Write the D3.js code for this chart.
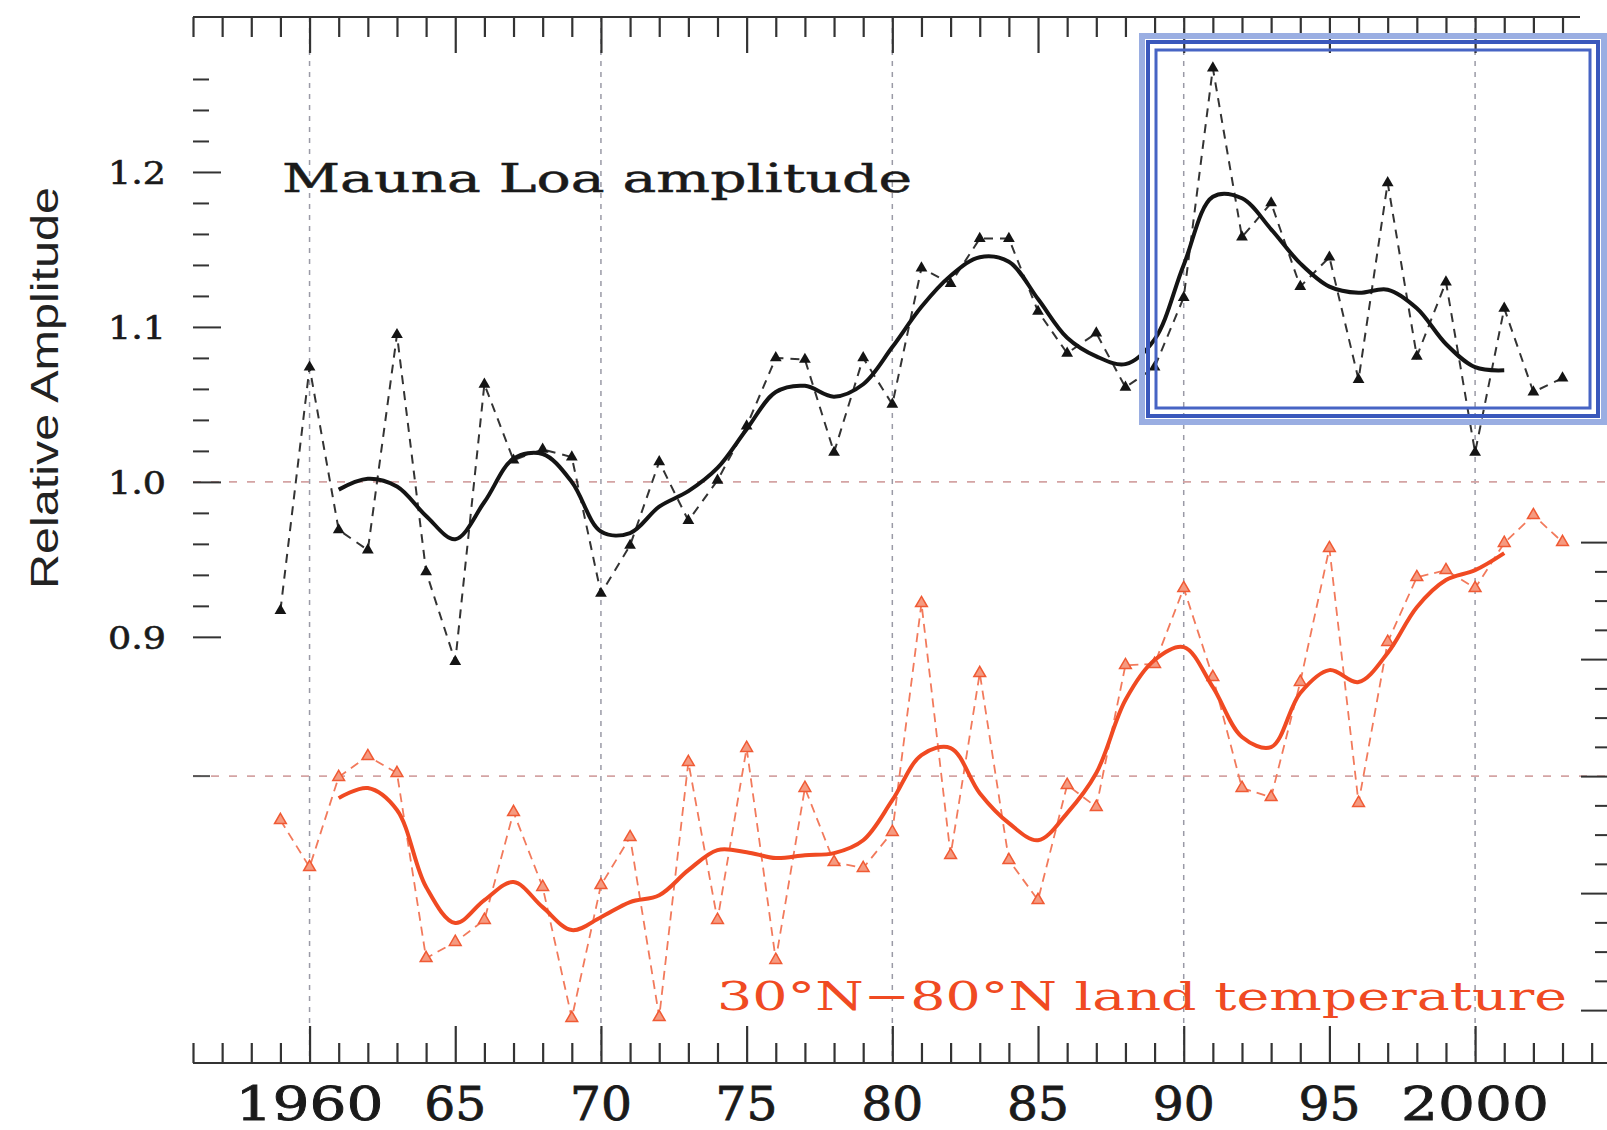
<!DOCTYPE html>
<html>
<head>
<meta charset="utf-8">
<script src="https://cdn.jsdelivr.net/npm/d3@7"></script>
<style>
  html, body { margin: 0; padding: 0; background: #fff; }
  svg { display: block; }
</style>
</head>
<body>
<div id="chart"></div>
<script>
const width = 1607;
const height = 1130;

// years of the annual values
const years = [1959, 1960, 1961, 1962, 1963, 1964, 1965, 1966, 1967, 1968,
  1969, 1970, 1971, 1972, 1973, 1974, 1975, 1976, 1977, 1978,
  1979, 1980, 1981, 1982, 1983, 1984, 1985, 1986, 1987, 1988,
  1989, 1990, 1991, 1992, 1993, 1994, 1995, 1996, 1997, 1998,
  1999, 2000, 2001, 2002, 2003];

// Mauna Loa seasonal amplitude (relative), annual
const maunaLoa = [0.917, 1.074, 0.969, 0.956, 1.095, 0.942, 0.884, 1.063, 1.014, 1.021,
  1.016, 0.928, 0.959, 1.013, 0.975, 1.001, 1.036, 1.080, 1.079, 1.019,
  1.080, 1.050, 1.138, 1.128, 1.157, 1.157, 1.110, 1.083, 1.096, 1.061,
  1.074, 1.119, 1.267, 1.158, 1.180, 1.126, 1.145, 1.066, 1.193, 1.081,
  1.129, 1.019, 1.112, 1.058, 1.067];

// 30N-80N land temperature anomaly (deg C), annual
const landTemp = [-0.188, -0.389, -0.004, 0.085, 0.013, -0.778, -0.709, -0.615, -0.154, -0.474,
  -1.034, -0.466, -0.261, -1.030, 0.060, -0.615, 0.120, -0.786, -0.051, -0.368,
  -0.393, -0.239, 0.739, -0.338, 0.440, -0.359, -0.530, -0.038, -0.132, 0.474,
  0.479, 0.803, 0.423, -0.051, -0.090, 0.402, 0.974, -0.115, 0.573, 0.850,
  0.880, 0.803, 0.996, 1.115, 1.000];

// smoothed curves
const smoothYears = [1961, 1962, 1963, 1964, 1965, 1966, 1967, 1968, 1969, 1970,
  1971, 1972, 1973, 1974, 1975, 1976, 1977, 1978, 1979, 1980,
  1981, 1982, 1983, 1984, 1985, 1986, 1987, 1988, 1989, 1990,
  1991, 1992, 1993, 1994, 1995, 1996, 1997, 1998, 1999, 2000, 2001];

const maunaLoaSmooth = [0.995, 1.002, 0.997, 0.978, 0.963, 0.987, 1.015, 1.018, 1.000, 0.968,
  0.967, 0.984, 0.994, 1.009, 1.034, 1.058, 1.062, 1.055, 1.063, 1.087,
  1.113, 1.133, 1.145, 1.142, 1.118, 1.093, 1.081, 1.076, 1.092, 1.140,
  1.184, 1.183, 1.163, 1.141, 1.126, 1.122, 1.124, 1.112, 1.089, 1.074, 1.072];

const landTempSmooth = [-0.094, -0.051, -0.145, -0.474, -0.628, -0.530, -0.453, -0.560, -0.658, -0.603,
  -0.538, -0.509, -0.402, -0.316, -0.325, -0.350, -0.338, -0.329, -0.274, -0.103,
  0.090, 0.120, -0.073, -0.201, -0.274, -0.158, 0.013, 0.325, 0.496, 0.551,
  0.380, 0.167, 0.124, 0.355, 0.453, 0.402, 0.526, 0.722, 0.838, 0.880, 0.953];

// axis ticks
const yearLabels = [
  { year: 1960, text: '1960' }, { year: 1965, text: '65' }, { year: 1970, text: '70' },
  { year: 1975, text: '75' }, { year: 1980, text: '80' }, { year: 1985, text: '85' },
  { year: 1990, text: '90' }, { year: 1995, text: '95' }, { year: 2000, text: '2000' }
];
const ampLabels = [0.9, 1.0, 1.1, 1.2];
const gridYears = [1960, 1970, 1980, 1990, 2000];

const black = '#141414';
const red = '#f04a22';
const serif = '"DejaVu Serif", "Liberation Serif", serif';

const svg = d3.select('#chart')
  .append('svg')
  .attr('width', width)
  .attr('height', height)
  .attr('viewBox', `0 0 ${width} ${height}`);

const x = d3.scaleLinear().domain([1956, 2003.6]).range([193, 1580]);
const yAmp = d3.scaleLinear().domain([0.625, 1.3]).range([1063, 17]);
const yTemp = d3.scaleLinear().domain([-1.226, 3.244]).range([1063, 17]);

const plotTop = 17, plotBottom = 1063;

// grid lines
svg.append('g').selectAll('line')
  .data(gridYears)
  .join('line')
  .attr('x1', d => x(d)).attr('x2', d => x(d))
  .attr('y1', plotTop).attr('y2', plotBottom)
  .attr('stroke', '#9a9aa6')
  .attr('stroke-width', 1.5)
  .attr('stroke-dasharray', '5,6');

svg.append('line')
  .attr('x1', 193).attr('x2', width)
  .attr('y1', yAmp(1.0)).attr('y2', yAmp(1.0))
  .attr('stroke', '#d4a4a4').attr('stroke-width', 1.6)
  .attr('stroke-dasharray', '8,10');

svg.append('line')
  .attr('x1', 193).attr('x2', width)
  .attr('y1', yTemp(0)).attr('y2', yTemp(0))
  .attr('stroke', '#d4a4a4').attr('stroke-width', 1.6)
  .attr('stroke-dasharray', '8,10');

// bottom and top axes
const xTicks = d3.range(1956, 2005);
const bottomAxis = d3.axisBottom(x)
  .tickValues(xTicks)
  .tickFormat('')
  .tickSizeOuter(0)
  .tickSizeInner(-20);
const gBottom = svg.append('g')
  .attr('transform', `translate(0,${plotBottom})`)
  .call(bottomAxis);
gBottom.select('.domain').remove();
gBottom.selectAll('.tick line')
  .attr('y2', d => d % 5 === 0 ? -37 : -20)
  .attr('stroke', '#333').attr('stroke-width', 2.2);
gBottom.append('line')
  .attr('x1', 193).attr('x2', width)
  .attr('stroke', '#333').attr('stroke-width', 2);

const topAxis = d3.axisTop(x)
  .tickValues(d3.range(1956, 2004))
  .tickFormat('')
  .tickSizeOuter(0);
const gTop = svg.append('g')
  .attr('transform', `translate(0,${plotTop})`)
  .call(topAxis);
gTop.select('.domain').remove();
gTop.selectAll('.tick line')
  .attr('y2', d => d % 5 === 0 ? 36 : 20)
  .attr('stroke', '#333').attr('stroke-width', 2.2);
gTop.append('line')
  .attr('x1', 193).attr('x2', 1580)
  .attr('stroke', '#333').attr('stroke-width', 2);

// year labels
svg.append('g').selectAll('text')
  .data(yearLabels)
  .join('text')
  .attr('x', d => x(d.year))
  .attr('y', 1120)
  .attr('text-anchor', 'middle')
  .attr('font-family', serif)
  .attr('font-size', 46)
  .attr('fill', '#1a1a1a')
  .attr('stroke', '#1a1a1a')
  .attr('stroke-width', 0.8)
  .attr('textLength', d => d.text.length === 4 ? 148 : 62)
  .attr('lengthAdjust', 'spacingAndGlyphs')
  .text(d => d.text);

// left amplitude axis (ticks only)
const ampTicks = d3.range(0.9, 1.27, 0.02).map(v => +v.toFixed(2));
const leftAxis = d3.axisRight(yAmp)
  .tickValues(ampTicks)
  .tickFormat('')
  .tickSizeOuter(0);
const gLeft = svg.append('g')
  .attr('transform', 'translate(193,0)')
  .call(leftAxis);
gLeft.select('.domain').remove();
gLeft.selectAll('.tick line')
  .attr('x2', d => Math.abs(d * 10 - Math.round(d * 10)) < 1e-6 ? 28 : 16)
  .attr('stroke', '#333').attr('stroke-width', 2);

svg.append('g').selectAll('text')
  .data(ampLabels)
  .join('text')
  .attr('x', 166)
  .attr('y', d => yAmp(d) + 12)
  .attr('text-anchor', 'end')
  .attr('font-family', serif)
  .attr('font-size', 32)
  .attr('fill', '#1a1a1a')
  .attr('stroke', '#1a1a1a')
  .attr('stroke-width', 0.6)
  .attr('textLength', 58)
  .attr('lengthAdjust', 'spacingAndGlyphs')
  .text(d => d.toFixed(1));

svg.append('line')
  .attr('x1', 193).attr('x2', 210)
  .attr('y1', yTemp(0)).attr('y2', yTemp(0))
  .attr('stroke', '#555').attr('stroke-width', 2);

// right temperature axis (ticks only, at the picture edge)
const tempTicks = d3.range(-1, 1.01, 0.125).map(v => +v.toFixed(3));
const rightAxis = d3.axisLeft(yTemp)
  .tickValues(tempTicks)
  .tickFormat('')
  .tickSizeOuter(0);
const gRight = svg.append('g')
  .attr('transform', `translate(${width + 2},0)`)
  .call(rightAxis);
gRight.select('.domain').remove();
gRight.selectAll('.tick line')
  .attr('x2', d => Math.abs(d * 2 - Math.round(d * 2)) < 1e-6 ? -28 : -14)
  .attr('stroke', '#333').attr('stroke-width', 2);

// y axis title
svg.append('text')
  .attr('transform', 'translate(58,388) rotate(-90)')
  .attr('text-anchor', 'middle')
  .attr('font-family', '"Liberation Sans", Arial, sans-serif')
  .attr('font-size', 38)
  .attr('fill', '#222')
  .attr('textLength', 402)
  .attr('lengthAdjust', 'spacingAndGlyphs')
  .text('Relative Amplitude');

// series
const ampPts = years.map((y, i) => [y, maunaLoa[i]]);
const tempPts = years.map((y, i) => [y, landTemp[i]]);
const ampSmooth = smoothYears.map((y, i) => [y, maunaLoaSmooth[i]]);
const tempSmooth = smoothYears.map((y, i) => [y, landTempSmooth[i]]);

const lineAmp = d3.line().x(d => x(d[0])).y(d => yAmp(d[1]));
const lineTemp = d3.line().x(d => x(d[0])).y(d => yTemp(d[1]));
const smoothAmp = d3.line().curve(d3.curveCatmullRom.alpha(0.5)).x(d => x(d[0])).y(d => yAmp(d[1]));
const smoothTemp = d3.line().curve(d3.curveCatmullRom.alpha(0.5)).x(d => x(d[0])).y(d => yTemp(d[1]));

const tri = d3.symbol(d3.symbolTriangle).size(60);

// temperature
svg.append('path')
  .datum(tempPts)
  .attr('d', lineTemp)
  .attr('fill', 'none')
  .attr('stroke', '#f27a5c')
  .attr('stroke-width', 1.8)
  .attr('stroke-dasharray', '9,6');
svg.append('g').selectAll('path')
  .data(tempPts)
  .join('path')
  .attr('d', tri)
  .attr('transform', d => `translate(${x(d[0])},${yTemp(d[1])})`)
  .attr('fill', '#f59a80')
  .attr('stroke', '#f05a34')
  .attr('stroke-width', 1.5);
svg.append('path')
  .datum(tempSmooth)
  .attr('d', smoothTemp)
  .attr('fill', 'none')
  .attr('stroke', red)
  .attr('stroke-width', 4);

// amplitude
svg.append('path')
  .datum(ampPts)
  .attr('d', lineAmp)
  .attr('fill', 'none')
  .attr('stroke', '#333')
  .attr('stroke-width', 2)
  .attr('stroke-dasharray', '9,7');
svg.append('g').selectAll('path')
  .data(ampPts)
  .join('path')
  .attr('d', tri)
  .attr('transform', d => `translate(${x(d[0])},${yAmp(d[1])})`)
  .attr('fill', black);
svg.append('path')
  .datum(ampSmooth)
  .attr('d', smoothAmp)
  .attr('fill', 'none')
  .attr('stroke', black)
  .attr('stroke-width', 4);

// annotations
svg.append('text')
  .attr('x', 282)
  .attr('y', 192)
  .attr('font-family', serif)
  .attr('font-size', 40)
  .attr('fill', '#1a1a1a')
  .attr('stroke', '#1a1a1a')
  .attr('stroke-width', 0.5)
  .attr('textLength', 630)
  .attr('lengthAdjust', 'spacingAndGlyphs')
  .text('Mauna Loa amplitude');

svg.append('text')
  .attr('x', 717)
  .attr('y', 1010)
  .attr('font-family', serif)
  .attr('font-size', 40)
  .attr('fill', red)
  .attr('textLength', 850)
  .attr('lengthAdjust', 'spacingAndGlyphs')
  .text('30°N−80°N land temperature');

// highlight box
const box = svg.append('g').attr('fill', 'none');
box.append('rect')
  .attr('x', 1142).attr('y', 36).attr('width', 462).attr('height', 386)
  .attr('stroke', '#9aaee2').attr('stroke-width', 6);
box.append('rect')
  .attr('x', 1148).attr('y', 42).attr('width', 450).attr('height', 374)
  .attr('stroke', '#3a58bc').attr('stroke-width', 4);
box.append('rect')
  .attr('x', 1156).attr('y', 50).attr('width', 434).attr('height', 358)
  .attr('stroke', '#4764c4').attr('stroke-width', 3);
</script>
</body>
</html>
